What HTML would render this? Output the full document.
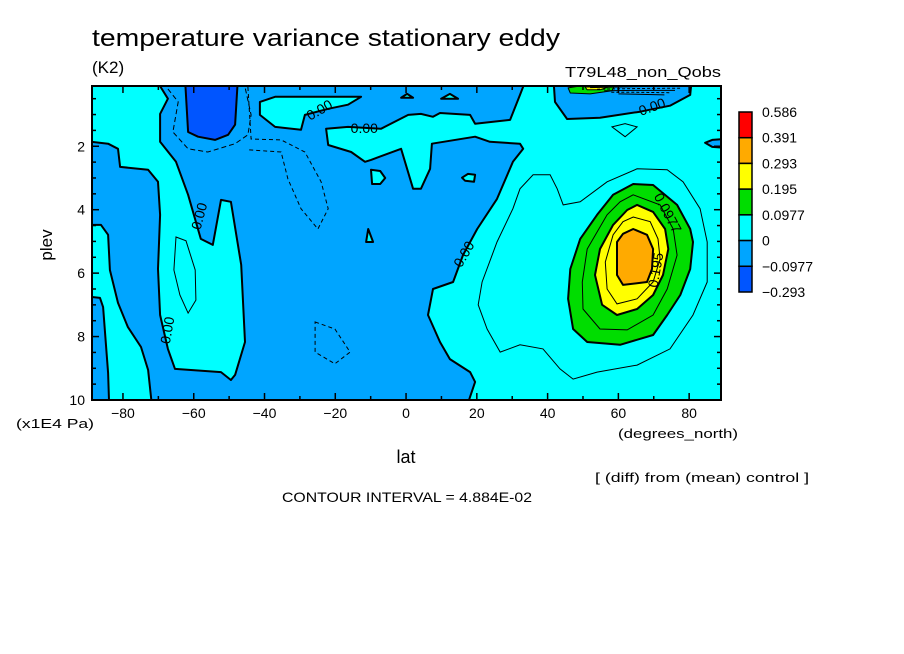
<!DOCTYPE html>
<html><head><meta charset="utf-8"><style>
html,body{margin:0;padding:0;background:#fff;width:904px;height:654px;overflow:hidden}
svg{display:block;font-family:"Liberation Sans",sans-serif}
</style></head><body>
<svg id="chart" width="904" height="654" viewBox="0 0 904 654">
<defs><clipPath id="plotclip"><rect x="92" y="86" width="629" height="314"/></clipPath></defs>
<text x="92" y="46" font-size="24" textLength="468" lengthAdjust="spacingAndGlyphs">temperature variance stationary eddy</text>
<text x="92" y="73" font-size="17">(K2)</text>
<text x="721" y="77" font-size="15" text-anchor="end" textLength="156" lengthAdjust="spacingAndGlyphs">T79L48_non_Qobs</text>
<g id="plot" clip-path="url(#plotclip)"></g>
<g id="lines" clip-path="url(#plotclip)"></g>
<g id="axes"></g>
<g id="cbar"></g>
<text x="52" y="245" font-size="17" transform="rotate(-90 52 245)" text-anchor="middle">plev</text>
<text x="16" y="428" font-size="13" textLength="78" lengthAdjust="spacingAndGlyphs">(x1E4 Pa)</text>
<text x="406" y="463" font-size="18" text-anchor="middle">lat</text>
<text x="618" y="438" font-size="13" textLength="120" lengthAdjust="spacingAndGlyphs">(degrees_north)</text>
<text x="595" y="482" font-size="13" textLength="214" lengthAdjust="spacingAndGlyphs">[ (diff) from (mean) control ]</text>
<text x="282" y="502" font-size="14" textLength="250" lengthAdjust="spacingAndGlyphs">CONTOUR INTERVAL = 4.884E-02</text>
</svg>
<script>
// ---- data ----
const latDomain = [-88.75, 89];
const plevDomain = [0.1, 10];
const xTickLabels = [-80, -60, -40, -20, 0, 20, 40, 60, 80];
const yTickLabels = [2, 4, 6, 8, 10];
const cbarLevels = ["0.586", "0.391", "0.293", "0.195", "0.0977", "0", "\u22120.0977", "\u22120.293"];
const cbarColors = ["#ff0000", "#ffaa00", "#ffff00", "#00dd00", "#00ffff", "#00a5ff", "#0055ff"];
// contour regions [lat, plev]
const cyanBand = [[-89,0],[-70.1,0],[-67.3,0.5],[-69.5,0.98],[-69.5,1.86],[-65,2.49],[-61.6,3.53],[-58,4.92],[-54.6,5.11],[-52.3,3.69],[-49.5,3.75],[-46.6,5.74],[-45.5,8.17],[-48.3,9.21],[-49.5,9.37],[-52.3,9.12],[-65.3,9.02],[-67.3,8.39],[-69.5,7.32],[-70.1,5.87],[-69.5,4.16],[-70.1,3.12],[-72.9,2.74],[-80.8,2.65],[-81.4,2.08],[-84.2,1.92],[-89,1.86]];
const cyanLeftBottom = [[-89,4.48],[-86.2,4.48],[-84.2,4.79],[-83.7,5.9],[-81.4,6.94],[-78.6,7.7],[-74.9,8.33],[-72.9,9.05],[-71.8,10.2],[-83.9,10.2],[-84.2,9.15],[-85.6,7.07],[-86.5,6.78],[-89,6.75]];
const cyanRight = [[-22.6,1.45],[-16.4,1.39],[-7.1,1.45],[0.6,1.01],[4.2,0.98],[7.6,1.07],[9.6,0.95],[18.1,1.01],[19.5,1.29],[29.4,1.17],[32.2,0.38],[34.2,-0.2],[90,-0.2],[90,10.2],[17.2,10.2],[19.5,9.43],[18.1,9.12],[12.4,8.71],[9.6,8.17],[6.2,7.32],[7.6,6.5],[13.3,6.28],[16.1,5.43],[20.1,4.61],[25.7,3.66],[30.2,2.49],[33.1,2.08],[32.2,1.92],[23.7,1.86],[19.5,1.7],[7.3,1.92],[6.8,2.71],[4.2,3.34],[2,3.34],[-0.3,2.49],[-1.4,2.08],[-9.9,2.43],[-11.6,2.49],[-15.5,2.18],[-22,1.96]];
const cyanTopBlob = [[-41.3,0.6],[-37,0.44],[-24,0.44],[-12.7,0.44],[-16.4,0.69],[-22,0.82],[-28.6,1.01],[-29.7,1.48],[-37,1.39],[-41.3,1.01]];
const cyanIsle1 = [[-9.9,2.74],[-7.3,2.78],[-5.9,3.0],[-7.3,3.19],[-9.6,3.19]];
const cyanIsle2 = [[15.8,2.99],[17.5,2.87],[19.5,2.9],[19.2,3.12],[16.7,3.09]];
const cyanIsle3 = [[-10.7,4.61],[-9.3,5.02],[-11.3,5.02]];
const cyanIsle4 = [[0.3,0.35],[2,0.47],[-1.4,0.47]];
const cyanIsle5 = [[12.4,0.35],[14.7,0.5],[9.9,0.5]];
const blueTopRight = [[41.6,-0.2],[42.1,0.6],[45.5,1.14],[54.8,1.1],[66.1,0.91],[74.6,0.72],[80.3,0.38],[80.8,-0.2]];
const blueRightEdge = [[84.5,1.89],[86.5,1.8],[90,1.77],[90,2.05],[86.5,2.02]];
const darkBluePatch = [[-62.5,-0.2],[-61.6,1.55],[-58.8,1.7],[-54,1.8],[-50.3,1.64],[-48.3,1.32],[-47.5,-0.2]];
const greenTop = [[45.8,0.16],[52,0.05],[59.1,0.05],[58.2,0.25],[52,0.35],[46.4,0.32]];
const yellowTop = [[50.6,0.13],[57.1,0.13],[54.8,0.22],[51.2,0.22]];
const posThin1 = [[35.9,2.9],[40.7,2.9],[42.7,3.34],[44.4,3.85],[49.2,3.75],[56.8,3.12],[65.3,2.71],[73.8,2.74],[78.3,3.12],[83.1,3.97],[85.1,5.02],[85.1,6.28],[81.1,7.32],[74.6,8.39],[65.3,8.9],[54,9.12],[47.2,9.34],[43.5,9.02],[38.7,8.39],[32.2,8.26],[26.6,8.49],[22.9,7.76],[20.4,7.0],[21.5,6.28],[25.7,5.02],[30.2,3.97],[32.2,3.34]];
const greenRegion = [[64.2,3.19],[69.8,3.22],[76.6,3.85],[80.3,4.61],[81.1,5.02],[80.3,5.87],[77.5,6.69],[73.8,7.32],[69.8,7.95],[60.5,8.26],[51.2,8.17],[47.2,7.76],[45.8,6.81],[46.4,5.87],[49.2,4.92],[54,4.16],[58.5,3.53]];
const posThin3 = [[64.2,3.53],[71.8,3.85],[75.5,4.61],[76.6,5.43],[73.8,6.5],[69.8,7.32],[62.5,7.79],[54.8,7.76],[50,7.13],[49.8,6.28],[51.2,5.24],[56.8,4.16],[60.5,3.75]];
const yellowRegion = [[65.3,3.85],[69.8,4.07],[73.2,4.61],[74.1,5.24],[72.6,6.06],[69.8,6.69],[65.3,7.13],[59.6,7.32],[55.4,7.0],[53.4,6.06],[54.8,5.24],[58.5,4.48],[62.5,4.01]];
const posThin5 = [[64.2,4.23],[69,4.38],[71.2,4.92],[71.8,5.55],[69.8,6.28],[65.3,6.81],[59.6,6.97],[56.8,6.5],[56.3,5.65],[58.5,4.79],[61.3,4.38]];
const orangeRegion = [[64.2,4.61],[68.1,4.79],[69.8,5.24],[69.5,5.87],[68.1,6.28],[61.3,6.37],[59.6,6.06],[59.6,5.02],[61.3,4.76]];
const thinOvalTop = [[58.2,1.39],[61.9,1.29],[65.3,1.39],[61.9,1.7]];
const thinOvalLeft = [[-65,4.86],[-62.2,4.98],[-59.6,5.9],[-59.4,6.85],[-61.6,7.26],[-63.9,6.69],[-65.6,5.9]];
const dashAroundDark = [[-67.3,0.19],[-64.4,0.6],[-65.9,1.55],[-61.6,2.08],[-56,2.18],[-48.3,1.92],[-44.7,1.64],[-43.8,1.01],[-45.5,0.13]];
const dashTongue = [[-44.7,0.13],[-43.8,1.77],[-35.3,1.8],[-28.6,2.18],[-24,3.12],[-22,3.97],[-24.9,4.61],[-29.7,3.97],[-33.4,3.03],[-35.3,2.18],[-44.7,2.11]];
const dashLoop = [[-25.7,7.54],[-20.1,7.76],[-15.8,8.49],[-20.1,8.86],[-25.7,8.49]];
const contourLabels = [["0.00",-24.5,0.85,-30],["0.00",-11.8,1.42,0],["0.00",69.5,0.75,-20],["0.00",-58.5,4.2,-75],["0.00",-67.5,7.8,-80],["0.00",16.3,5.4,-60],["0.0977",74,4.1,62],["0.195",70.5,5.9,-80]];

// ---- scales ----
const X0 = 92, X1 = 721, Y0 = 86, Y1 = 400;
function xs(lat){ return X0 + (lat - latDomain[0]) / (latDomain[1] - latDomain[0]) * (X1 - X0); }
function ys(p){ return Y0 + (p - plevDomain[0]) / (plevDomain[1] - plevDomain[0]) * (Y1 - Y0); }
const NS = "http://www.w3.org/2000/svg";
function mk(tag, attrs, parent){ const e = document.createElementNS(NS, tag); for (const k in attrs) e.setAttribute(k, attrs[k]); parent.appendChild(e); return e; }
function pts(arr){ return arr.map(d => xs(d[0]).toFixed(1) + "," + ys(d[1]).toFixed(1)).join(" "); }

const plot = document.getElementById("plot");
const lines = document.getElementById("lines");
const bg = mk("rect", {x:X0, y:Y0, width:X1-X0, height:Y1-Y0, fill:"#00a5ff"}, plot);



function region(arr, fill, name, sw){
  const e = mk("polygon", {points:pts(arr), fill:fill, stroke:"#000", "stroke-width":sw, "stroke-linejoin":"round"}, plot);
  
  
}
region(cyanBand, "#00ffff", "cyan-region-left-band", 2);
region(cyanLeftBottom, "#00ffff", "cyan-region-left-bottom", 2);
region(cyanRight, "#00ffff", "cyan-region-right", 2);
region(cyanTopBlob, "#00ffff", "cyan-region-top", 2);
region(cyanIsle1, "#00ffff", "cyan-island", 2);
region(cyanIsle2, "#00ffff", "cyan-island", 2);
region(cyanIsle3, "#00ffff", "cyan-island", 2);
region(cyanIsle4, "#00ffff", "cyan-island", 2);
region(cyanIsle5, "#00ffff", "cyan-island", 2);
region(blueTopRight, "#00a5ff", "blue-region-top-right", 2);
region(blueRightEdge, "#00a5ff", "blue-region-right-edge", 2);
region(darkBluePatch, "#0055ff", "dark-blue-region", 2);
region(greenTop, "#00dd00", "green-region-top", 1);
region(yellowTop, "#ffff00", "yellow-region-top", 1);
region(greenRegion, "#00dd00", "green-region", 2);
region(yellowRegion, "#ffff00", "yellow-region", 2);
region(orangeRegion, "#ffaa00", "orange-region", 2);

function line(arr, name, dash, closed, sw){
  const e = mk(closed ? "polygon" : "polyline", {points:pts(arr), fill:"none", stroke:"#000", "stroke-width":sw||1, "stroke-dasharray":dash||"none"}, lines);
  
  
}
line(posThin1, "contour-0.0488", null, true);
line(posThin3, "contour-0.146", null, true);
line(posThin5, "contour-0.244", null, true);
line(thinOvalTop, "contour-small-positive", null, true);
line(thinOvalLeft, "contour-left-positive", null, true);
line(dashAroundDark, "contour-negative-dashed", "5,3", false);
line(dashTongue, "contour-negative-tongue", "4,3", false);
line(dashLoop, "contour-negative-loop", "4,3", true);
// dense lines near top-right
for (let i = 0; i < 5; i++) {
  const arr = [[52 + i*2, 0.15 + i*0.05],[65, 0.12 + i*0.06],[79 - i*1.5, 0.1 + i*0.07]];
  line(arr, "contour-dense-top", i % 2 ? "3,2" : null, false);
}
contourLabels.forEach(c => {
  const x = xs(c[1]), y = ys(c[2]);
  const t = mk("text", {x:x, y:y+5, "font-size":14, "text-anchor":"middle", transform:"rotate(" + c[3] + " " + x + " " + y + ")"}, lines);
  t.textContent = c[0];
  
  
});

// ---- axes ----
const axes = document.getElementById("axes");
const frame = mk("rect", {x:X0, y:Y0, width:X1-X0, height:Y1-Y0, fill:"none", stroke:"#000", "stroke-width":2}, axes);


for (let lat = -80; lat <= 80; lat += 10) {
  const L = lat % 20 === 0 ? 7 : 4, x = xs(lat);
  mk("line", {x1:x, x2:x, y1:Y1, y2:Y1-L, stroke:"#000", "stroke-width":1.5}, axes);
  mk("line", {x1:x, x2:x, y1:Y0, y2:Y0+L, stroke:"#000", "stroke-width":1.5}, axes);
}
for (let p = 0.5; p < 10; p += 0.5) {
  const L = p % 2 === 0 ? 7 : 4, y = ys(p);
  mk("line", {x1:X0, x2:X0+L, y1:y, y2:y, stroke:"#000", "stroke-width":1.5}, axes);
  mk("line", {x1:X1, x2:X1-L, y1:y, y2:y, stroke:"#000", "stroke-width":1.5}, axes);
}
xTickLabels.forEach(v => {
  const t = mk("text", {x:xs(v), y:418, "font-size":14, "text-anchor":"middle"}, axes);
  t.textContent = v < 0 ? "\u2212" + Math.abs(v) : String(v);
  
  
});
yTickLabels.forEach(v => {
  const t = mk("text", {x:85, y:ys(v)+5, "font-size":14, "text-anchor":"end"}, axes);
  t.textContent = String(v);
  
  
});

// ---- colorbar ----
const cbar = document.getElementById("cbar");
const CB_TOP = 112, CB_H = 180 / cbarColors.length;
cbarColors.forEach((c, i) => {
  const r = mk("rect", {x:739, y:CB_TOP + i*CB_H, width:13, height:CB_H, fill:c, stroke:"#000", "stroke-width":1.5}, cbar);
  
  
});
cbarLevels.forEach((lv, i) => {
  const t = mk("text", {x:762, y:CB_TOP + i*CB_H + 5, "font-size":14}, cbar);
  t.textContent = lv;
  
  
});
</script>
</body></html>
